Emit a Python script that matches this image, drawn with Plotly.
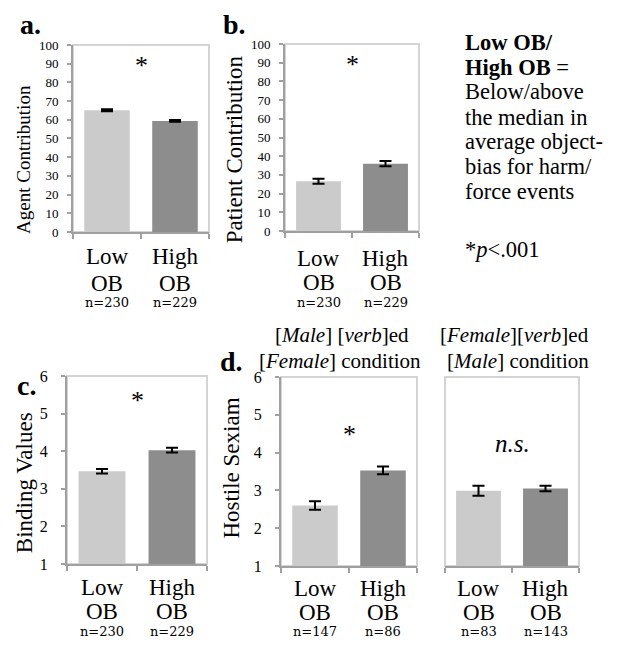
import plotly.graph_objects as go

# ---------------- data ----------------
categories = ["Low OB", "High OB"]
cat_line1 = ["Low", "High"]
cat_line2 = ["OB", "OB"]

agent_means = [65.1, 59.4]
agent_err = [0.6, 0.45]
agent_n = ["n=230", "n=229"]

patient_means = [26.6, 36.0]
patient_err = [1.3, 1.4]
patient_n = ["n=230", "n=229"]

binding_means = [3.47, 4.03]
binding_err = [0.06, 0.06]
binding_n = ["n=230", "n=229"]

hs_mf_means = [2.60, 3.53]
hs_mf_err = [0.11, 0.10]
hs_mf_n = ["n=147", "n=86"]

hs_fm_means = [2.99, 3.05]
hs_fm_err = [0.13, 0.07]
hs_fm_n = ["n=83", "n=143"]

bar_colors = ["#cbcbcb", "#8d8d8d"]

W, H = 625, 648
SERIF = "Liberation Serif"
NFONT = "DejaVu Serif"


def px(x):
    return x / W


def py(y):
    return 1 - y / H


panels = [
    dict(ax="", means=agent_means, err=agent_err, n=agent_n, xd=(73, 209), yd=(38, 230),
         yr=[0, 100], dtick=10, tfs=13, title="Agent Contribution", tpos=(24, 156), tsize=19,
         sig="*", sigy=89, showy=True, rows=(255, 283, 302), sof=6),
    dict(ax="2", means=patient_means, err=patient_err, n=patient_n, xd=(285, 419), yd=(37, 229),
         yr=[0, 100], dtick=10, tfs=13, title="Patient Contribution", tpos=(234, 145), tsize=23,
         sig="*", sigy=89, showy=True, rows=(257, 282, 302), sof=6),
    dict(ax="3", means=binding_means, err=binding_err, n=binding_n, xd=(67, 207), yd=(378, 571),
         yr=[1, 6], dtick=1, tfs=16, title="Binding Values", tpos=(24, 488), tsize=23,
         sig="*", sigy=5.35, showy=True, rows=(595, 620, 640), sof=10),
    dict(ax="4", means=hs_mf_means, err=hs_mf_err, n=hs_mf_n, xd=(281, 417), yd=(379, 573),
         yr=[1, 6], dtick=1, tfs=16, title="Hostile Sexiam", tpos=(232, 472), tsize=23,
         sig="*", sigy=4.47, showy=True, rows=(596, 621, 640), sof=10),
    dict(ax="5", means=hs_fm_means, err=hs_fm_err, n=hs_fm_n, xd=(445, 579), yd=(379, 573),
         yr=[1, 6], dtick=1, tfs=16, title=None, tpos=None, tsize=23,
         sig="<i>n.s.</i>", sigy=4.24, showy=False, rows=(596, 621, 640), sof=10),
]

fig = go.Figure()
layout = dict(
    width=W, height=H, margin=dict(l=0, r=0, t=0, b=0), autosize=False,
    paper_bgcolor="white", plot_bgcolor="white", showlegend=False,
    bargap=0.33, font=dict(family=SERIF, color="black"),
)
annotations = []
shapes = []

for p in panels:
    xa = "x" + p["ax"]
    ya = "y" + p["ax"]
    fig.add_trace(go.Bar(
        x=[0, 1], y=p["means"], xaxis=xa, yaxis=ya,
        marker=dict(color=bar_colors, line=dict(width=0)),
        error_y=dict(type="data", array=p["err"], visible=True, color="black",
                     thickness=2, width=6),
        hoverinfo="skip",
    ))
    xkey = "xaxis" + p["ax"]
    ykey = "yaxis" + p["ax"]
    layout[xkey] = dict(
        domain=[px(p["xd"][0]), px(p["xd"][1])], anchor=ya, range=[-0.5, 1.5],
        tickmode="array", tickvals=[-0.5, 0.5, 1.5], ticks="outside", ticklen=5,
        tickcolor="#a0a0a0", tickwidth=2, showticklabels=False,
        showline=True, linecolor="#a0a0a0", linewidth=2, showgrid=False,
        zeroline=False, fixedrange=True,
    )
    if p["showy"]:
        layout[ykey] = dict(
            domain=[py(p["yd"][1]), py(p["yd"][0])], anchor=xa, range=p["yr"],
            dtick=p["dtick"], tick0=p["yr"][0], ticks="outside", ticklen=4,
            tickcolor="#a0a0a0", tickwidth=2, showline=True, linecolor="#a0a0a0",
            linewidth=2, showgrid=False, zeroline=False,
            tickfont=dict(family=SERIF, size=p["tfs"], color="black"),
            ticklabelstandoff=p["sof"], fixedrange=True,
        )
    else:
        layout[ykey] = dict(
            domain=[py(p["yd"][1]), py(p["yd"][0])], anchor=xa, range=p["yr"],
            showticklabels=False, ticks="", showline=False, showgrid=False,
            zeroline=False, fixedrange=True,
        )
    shapes.append(dict(
        type="rect", xref=xa + " domain", yref=ya + " domain", x0=0, x1=1, y0=0, y1=1,
        line=dict(color="#d4d4d4", width=2), fillcolor="rgba(0,0,0,0)", layer="below",
    ))
    annotations.append(dict(
        x=0.5, y=p["sigy"], xref=xa, yref=ya, text=p["sig"], showarrow=False,
        font=dict(family=SERIF, size=26 if p["sig"] == "*" else 25, color="black"),
        xanchor="center", yanchor="middle",
    ))
    for i in range(2):
        annotations.append(dict(x=i, y=py(p["rows"][0]), xref=xa, yref="paper",
                                text=cat_line1[i], showarrow=False,
                                font=dict(family=SERIF, size=23), xanchor="center", yanchor="middle"))
        annotations.append(dict(x=i, y=py(p["rows"][1]), xref=xa, yref="paper",
                                text=cat_line2[i], showarrow=False,
                                font=dict(family=SERIF, size=23), xanchor="center", yanchor="middle"))
        annotations.append(dict(x=i, y=py(p["rows"][2]), xref=xa, yref="paper",
                                text=p["n"][i], showarrow=False,
                                font=dict(family=NFONT, size=13), xanchor="center", yanchor="middle"))
    if p["title"]:
        annotations.append(dict(x=px(p["tpos"][0]), y=py(p["tpos"][1]), xref="paper", yref="paper",
                                text=p["title"], textangle=-90, showarrow=False,
                                font=dict(family=SERIF, size=p["tsize"]),
                                xanchor="center", yanchor="middle"))

for letter, (lx, ly) in zip(["a.", "b.", "c.", "d."], [(18, 17), (221, 17), (15, 388), (218, 363)]):
    annotations.append(dict(x=px(lx), y=py(ly), xref="paper", yref="paper", text="<b>" + letter + "</b>",
                            showarrow=False, font=dict(family=SERIF, size=28),
                            xanchor="left", yanchor="middle"))

note_lines = ["<b>Low OB/</b>", "<b>High OB</b> =", "Below/above", "the median in",
              "average object-", "bias for harm/", "force events", "*<i>p</i>&lt;.001"]
note_y = [35, 61, 86, 112, 137, 163, 188, 248]
for t, yy in zip(note_lines, note_y):
    annotations.append(dict(x=px(464), y=py(yy), xref="paper", yref="paper", text=t,
                            showarrow=False, font=dict(family=SERIF, size=22.5),
                            xanchor="left", yanchor="middle", borderpad=0))

cond = [("[<i>Male</i>] [<i>verb</i>]ed", 342, 336), ("[<i>Female</i>] condition", 340, 362),
        ("[<i>Female</i>][<i>verb</i>]ed", 514, 336), ("[<i>Male</i>] condition", 518, 362)]
for t, cx, cy in cond:
    annotations.append(dict(x=px(cx), y=py(cy), xref="paper", yref="paper", text=t,
                            showarrow=False, font=dict(family=SERIF, size=21),
                            xanchor="center", yanchor="middle"))

layout["annotations"] = annotations
layout["shapes"] = shapes
fig.update_layout(**layout)

fig.write_html(
    "out.html",
    config={"displayModeBar": False, "responsive": False},
    post_script="document.body.style.margin='0';document.body.style.overflow='hidden';",
)
